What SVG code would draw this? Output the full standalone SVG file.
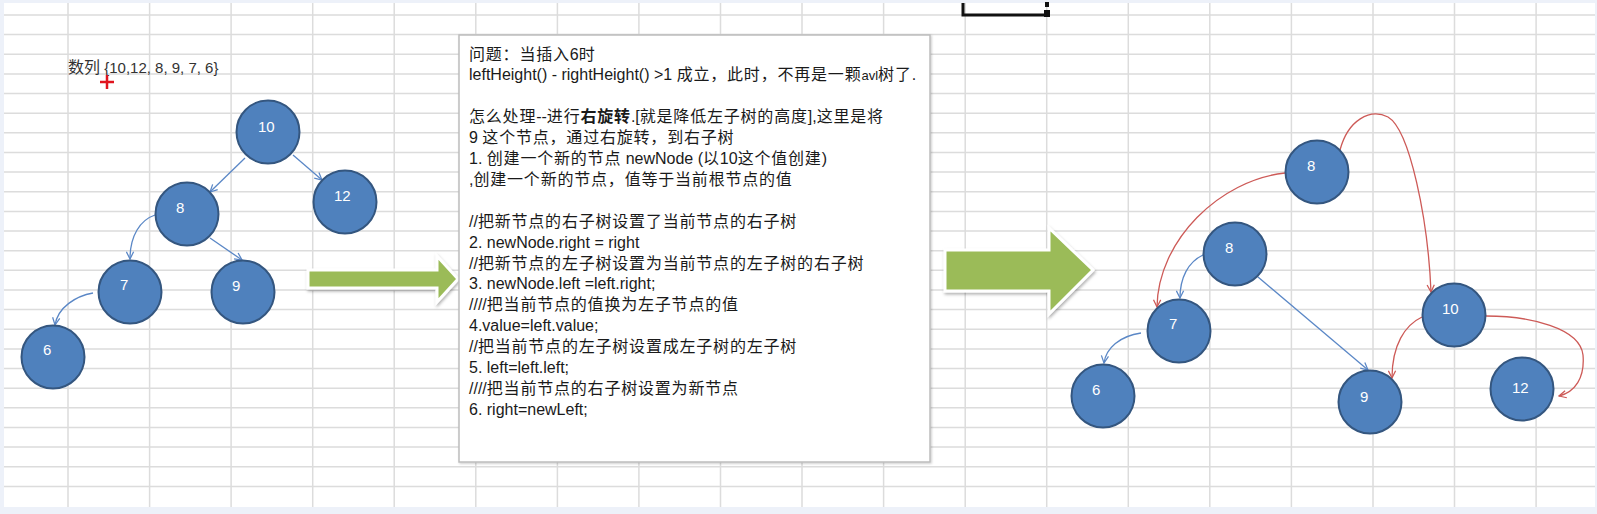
<svg xmlns="http://www.w3.org/2000/svg" width="1597" height="514" viewBox="0 0 1597 514">
<style>
.grid{stroke:#dcdcdc;stroke-width:1.5;fill:none}
.node circle{fill:#4f81bd;stroke:#34567f;stroke-width:2}
.node text{fill:#ffffff;font-family:"Liberation Sans",sans-serif;font-size:15px}
.eb{fill:none;stroke:#5a87c6;stroke-width:1.3;marker-end:url(#mb)}
.er{fill:none;stroke:#cd5a57;stroke-width:1.3;marker-end:url(#mr)}
.big{fill:#9bbb59;stroke:#ffffff;stroke-width:3;stroke-linejoin:miter;filter:url(#sh)}
.note text{font-family:"Liberation Sans","Noto Sans CJK SC",sans-serif;font-size:16px;fill:#1a1a1a}
.cj{font-family:"Noto Sans CJK SC",sans-serif;letter-spacing:0.8px}
</style>
<defs>
<marker id="mb" viewBox="0 0 10 10" refX="9" refY="5" markerWidth="9" markerHeight="9" markerUnits="userSpaceOnUse" orient="auto"><path d="M1,1 L9,5 L1,9" fill="none" stroke="#5a87c6" stroke-width="1.4"/></marker>
<marker id="mr" viewBox="0 0 10 10" refX="9" refY="5" markerWidth="9" markerHeight="9" markerUnits="userSpaceOnUse" orient="auto"><path d="M1,1 L9,5 L1,9" fill="none" stroke="#cd5a57" stroke-width="1.4"/></marker>
<filter id="sh" x="-20%" y="-30%" width="140%" height="160%"><feDropShadow dx="1" dy="2" stdDeviation="1.5" flood-color="#000" flood-opacity="0.3"/></filter>
<filter id="bs" x="-5%" y="-5%" width="110%" height="110%"><feDropShadow dx="1" dy="1" stdDeviation="1" flood-color="#000" flood-opacity="0.2"/></filter>
</defs>
<rect x="0" y="0" width="1597" height="514" fill="#edf1f9"/>
<rect x="4" y="3" width="1591" height="504" fill="#ffffff"/>
<path class="grid" d="M68,3V507M149.6,3V507M231.1,3V507M312.7,3V507M394.2,3V507M475.8,3V507M557.4,3V507M638.9,3V507M720.5,3V507M802,3V507M883.6,3V507M965.2,3V507M1046.7,3V507M1128.3,3V507M1209.8,3V507M1291.4,3V507M1373,3V507M1454.5,3V507M1536.1,3V507
M4,15H1595M4,34.6H1595M4,54.3H1595M4,73.9H1595M4,93.6H1595M4,113.2H1595M4,132.8H1595M4,152.5H1595M4,172.1H1595M4,191.8H1595M4,211.4H1595M4,231H1595M4,250.7H1595M4,270.3H1595M4,290H1595M4,309.6H1595M4,329.2H1595M4,348.9H1595M4,368.5H1595M4,388.2H1595M4,407.8H1595M4,427.4H1595M4,447.1H1595M4,466.7H1595M4,486.4H1595"/>
<g id="cell-marker"><path d="M963,3V15H1047" fill="none" stroke="#111" stroke-width="3"/><rect x="1044" y="10" width="6" height="7" fill="#111"/><rect x="1045" y="2" width="4" height="5" fill="#111"/></g>
<g id="title"><text x="68" y="73" font-family="Noto Sans CJK SC,sans-serif" font-size="16" fill="#333">数列<tspan font-family="Liberation Sans,sans-serif" font-size="15"> {10,12, 8, 9, 7, 6}</tspan></text></g>
<g id="cursor"><path d="M107,75V89M100,82H114" stroke="#e0141e" stroke-width="2.5"/></g>
<g id="connectors">
<path class="eb" d="M245,158 L210,192"/>
<path class="eb" d="M293,155 L322,180"/>
<path class="eb" d="M155,215 C140,220 130,236 130,259"/>
<path class="eb" d="M210,238 L242,260"/>
<path class="eb" d="M93,293 C76,296 58,307 55,325"/>
<path class="er" d="M1340,150 C1348,120 1370,108 1388,117 C1410,130 1428,220 1431,292"/>
<path class="er" d="M1285,173 C1220,180 1158,240 1157,307"/>
<path class="eb" d="M1203,255 C1188,262 1180,278 1180,298"/>
<path class="eb" d="M1258,277 L1368,370"/>
<path class="eb" d="M1141,333 C1120,336 1106,348 1104,363"/>
<path class="er" d="M1422,317 C1405,325 1392,345 1392,378"/>
<path class="er" d="M1486,316 C1530,316 1580,328 1583,355 C1585,378 1575,392 1559,396"/>
</g>
<g id="l-n10" class="node"><circle cx="268" cy="132" r="31.5"/><text x="258" y="132">10</text></g>
<g id="l-n12" class="node"><circle cx="345" cy="202" r="31.5"/><text x="334" y="201">12</text></g>
<g id="l-n8" class="node"><circle cx="187" cy="214" r="31.5"/><text x="176" y="213">8</text></g>
<g id="l-n7" class="node"><circle cx="130" cy="292" r="31.5"/><text x="120" y="290">7</text></g>
<g id="l-n9" class="node"><circle cx="243" cy="292" r="31.5"/><text x="232" y="291">9</text></g>
<g id="l-n6" class="node"><circle cx="53" cy="357" r="31.5"/><text x="43" y="355">6</text></g>
<g id="r-n8top" class="node"><circle cx="1317" cy="172" r="31.5"/><text x="1307" y="171">8</text></g>
<g id="r-n8" class="node"><circle cx="1235" cy="254" r="31.5"/><text x="1225" y="253">8</text></g>
<g id="r-n7" class="node"><circle cx="1179" cy="331" r="31.5"/><text x="1169" y="329">7</text></g>
<g id="r-n6" class="node"><circle cx="1103" cy="396" r="31.5"/><text x="1092" y="395">6</text></g>
<g id="r-n9" class="node"><circle cx="1370" cy="402" r="31.5"/><text x="1360" y="402">9</text></g>
<g id="r-n10" class="node"><circle cx="1454" cy="315" r="31.5"/><text x="1442" y="314">10</text></g>
<g id="r-n12" class="node"><circle cx="1522" cy="389" r="31.5"/><text x="1512" y="393">12</text></g>
<g id="arrow1"><polygon class="big" points="308,270 437,270 437,256 458,279 437,302 437,288 308,288"/></g>
<g id="arrow2"><polygon class="big" points="945,250 1049,250 1049,228 1093,270 1049,314 1049,291 945,291"/></g>
<g id="note" class="note">
<rect x="459" y="35" width="471" height="427" fill="#ffffff" stroke="#bdbdbd" stroke-width="1.5" filter="url(#bs)"/>
<text x="469" y="59.5"><tspan class="cj">问题：当插入</tspan>6<tspan class="cj">时</tspan></text>
<text x="469" y="80.4">leftHeight() - rightHeight() &gt;1 <tspan class="cj">成立，此时，不再是一颗</tspan><tspan font-size="13">avl</tspan><tspan class="cj">树了</tspan>.</text>
<text x="469" y="122.2"><tspan class="cj">怎么处理</tspan>--<tspan class="cj">进行</tspan><tspan class="cj" font-weight="bold">右旋转</tspan>.[<tspan class="cj">就是降低左子树的高度</tspan>],<tspan class="cj">这里是将</tspan></text>
<text x="469" y="143.1">9 <tspan class="cj">这个节点，通过右旋转，到右子树</tspan></text>
<text x="469" y="164">1. <tspan class="cj">创建一个新的节点</tspan> newNode (<tspan class="cj">以</tspan>10<tspan class="cj">这个值创建</tspan>)</text>
<text x="469" y="184.9">,<tspan class="cj">创建一个新的节点，值等于当前根节点的值</tspan></text>
<text x="469" y="226.7">//<tspan class="cj">把新节点的右子树设置了当前节点的右子树</tspan></text>
<text x="469" y="247.6">2. newNode.right = right</text>
<text x="469" y="268.5">//<tspan class="cj">把新节点的左子树设置为当前节点的左子树的右子树</tspan></text>
<text x="469" y="289.4">3. newNode.left =left.right;</text>
<text x="469" y="310.3">////<tspan class="cj">把当前节点的值换为左子节点的值</tspan></text>
<text x="469" y="331.2">4.value=left.value;</text>
<text x="469" y="352.1">//<tspan class="cj">把当前节点的左子树设置成左子树的左子树</tspan></text>
<text x="469" y="373">5. left=left.left;</text>
<text x="469" y="393.9">////<tspan class="cj">把当前节点的右子树设置为新节点</tspan></text>
<text x="469" y="414.8">6. right=newLeft;</text>
</g>
</svg>
